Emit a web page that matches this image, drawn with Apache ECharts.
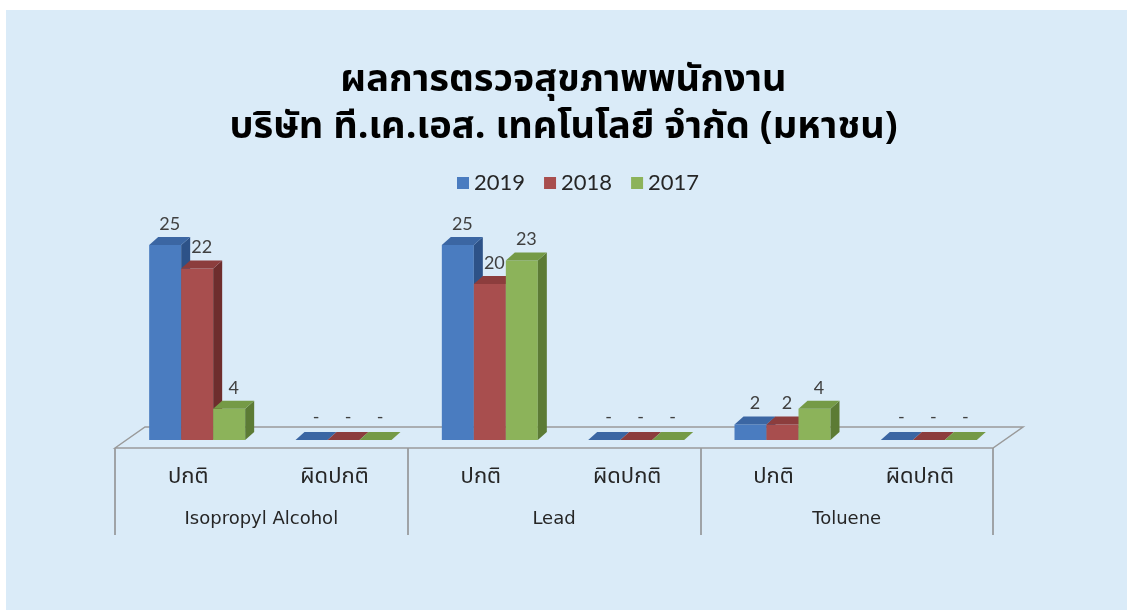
<!DOCTYPE html>
<html>
<head>
<meta charset="utf-8">
<script src="https://cdn.jsdelivr.net/npm/echarts@6/dist/echarts.min.js"></script>
<style>
  html, body { margin: 0; padding: 0; background: #ffffff; }
  #panel { position: absolute; left: 6px; top: 10px; right: 0; bottom: 0; background: #DAEBF8; }
  #chart { position: absolute; left: 0; top: 0; width: 1127px; height: 610px; }
</style>
</head>
<body>
<div id="panel"></div>
<div id="chart"></div>
<script>
// ---- data ----
const titleLines = ['ผลการตรวจสุขภาพพนักงาน', 'บริษัท ที.เค.เอส. เทคโนโลยี จำกัด (มหาชน)'];
const subCategories = ['ปกติ', 'ผิดปกติ', 'ปกติ', 'ผิดปกติ', 'ปกติ', 'ผิดปกติ'];
const groups = ['Isopropyl Alcohol', 'Lead', 'Toluene'];
const seriesNames = ['2019', '2018', '2017'];
const values2019 = [25, 0, 25, 0, 2, 0];
const values2018 = [22, 0, 20, 0, 2, 0];
const values2017 = [4, 0, 23, 0, 4, 0];
const seriesValues = [values2019, values2018, values2017];

// ---- styles ----
const frontColors = ['#4A7CC0', '#A84E4E', '#8CB35A'];
const topColors   = ['#3B66A3', '#8C3D3D', '#759A46'];
const sideColors  = ['#2D5288', '#6E2D2D', '#5C7B35'];
const thaiFont = "'Noto Sans Thai', 'Noto Sans Thai UI', Tahoma, 'DejaVu Sans', sans-serif";
const numFont = "Lato, 'Open Sans', sans-serif";
const BAR_W = 32, DX = 9, DY = -8, SHIFT = 9, LIFT = 8;
const FLOOR_DX = 30, FLOOR_DY = -21;

const chart = echarts.init(document.getElementById('chart'), null, { renderer: 'canvas' });

function barRender(k) {
  return function (params, api) {
    const ci = api.value(0), v = api.value(1);
    const base = api.coord([ci, 0]);
    const topPt = api.coord([ci, v]);
    const left = base[0] + SHIFT - 1.5 * BAR_W + k * BAR_W;
    const by = base[1] - LIFT;
    const ty = topPt[1] - LIFT;
    const children = [];
    if (by - ty > 0) {
      children.push({ type: 'rect', shape: { x: left, y: ty, width: BAR_W, height: by - ty },
        style: { fill: frontColors[k] } });
      children.push({ type: 'polygon', shape: { points: [[left + BAR_W, ty], [left + BAR_W + DX, ty + DY], [left + BAR_W + DX, by + DY], [left + BAR_W, by]] },
        style: { fill: sideColors[k] } });
    }
    children.push({ type: 'polygon', shape: { points: [[left, ty], [left + BAR_W, ty], [left + BAR_W + DX, ty + DY], [left + DX, ty + DY]] },
      style: { fill: topColors[k] } });
    children.push({ type: 'text', x: left + BAR_W / 2 + DX / 2, y: ty + DY - (v === 0 ? 6 : 4),
      style: { text: v === 0 ? '-' : String(v), fill: '#404040', font: '18px ' + numFont, align: 'center', verticalAlign: 'bottom' } });
    return { type: 'group', children: children };
  };
}

const series = [{
  type: 'custom', name: 'floor', z: 1, silent: true,
  data: [[0, 0]],
  renderItem: function (params, api) {
    const cs = params.coordSys;
    const x = cs.x, y = cs.y + cs.height, w = cs.width;
    return { type: 'polygon', shape: { points: [[x, y], [x + FLOOR_DX, y + FLOOR_DY], [x + w + FLOOR_DX, y + FLOOR_DY], [x + w, y]] },
      style: { fill: 'none', stroke: '#9A9A9A', lineWidth: 1.5 } };
  }
}];
seriesNames.forEach(function (name, k) {
  series.push({
    type: 'custom', name: name, z: 2 + k,
    itemStyle: { color: frontColors[k] },
    data: seriesValues[k].map(function (v, i) { return [i, v]; }),
    encode: { x: 0, y: 1 },
    renderItem: barRender(k)
  });
});

chart.setOption({
  animation: false,
  title: {
    text: titleLines.join('\n'), left: 'center', top: 55,
    textStyle: { fontSize: 38, fontWeight: 'bold', color: '#000000', fontFamily: thaiFont, lineHeight: 47 }
  },
  legend: {
    data: seriesNames, top: 167, left: 452, icon: 'rect', itemWidth: 12, itemHeight: 12, itemGap: 19,
    textStyle: { fontSize: 22, color: '#262626', fontFamily: numFont, padding: [0, 0, 0, 0] }
  },
  grid: { left: 115, right: 134, top: 214, bottom: 162 },
  xAxis: [{
    type: 'category', data: subCategories, position: 'bottom',
    axisLine: { show: false }, axisTick: { show: false },
    axisLabel: { margin: 20, fontSize: 22, color: '#262626', fontFamily: thaiFont }
  }, {
    type: 'category', data: groups, position: 'bottom',
    axisLine: { show: false },
    axisTick: { show: true, length: 87, lineStyle: { color: '#8C8C8C', width: 1.5 } },
    axisLabel: { margin: 62, fontSize: 18, color: '#262626', fontFamily: "'DejaVu Sans', sans-serif" }
  }],
  yAxis: { type: 'value', min: 0, max: 30, show: false, splitLine: { show: false } },
  series: series
});
</script>
</body>
</html>
